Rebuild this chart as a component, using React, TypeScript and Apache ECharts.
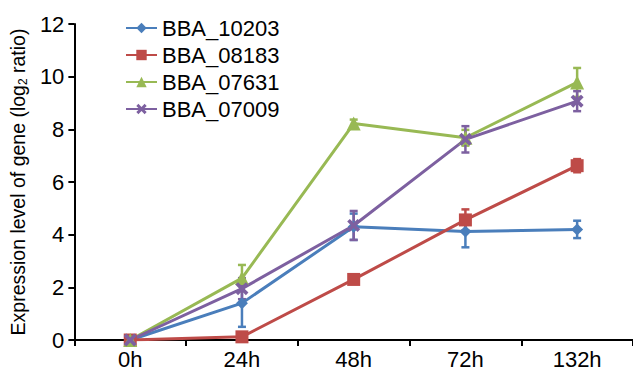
import React, { useEffect, useRef } from "react";
import * as echarts from "echarts";

const categories = ["0h", "24h", "48h", "72h", "132h"];
const seriesNames = ["BBA_10203", "BBA_08183", "BBA_07631", "BBA_07009"];
const bba10203 = [0, 1.4, 4.3, 4.12, 4.2];
const bba10203Err = [0.05, 0.9, 0.5, 0.6, 0.33];
const bba08183 = [0, 0.12, 2.3, 4.56, 6.62];
const bba08183Err = [0.05, 0.1, 0.1, 0.4, 0.25];
const bba07631 = [0, 2.35, 8.22, 7.68, 9.78];
const bba07631Err = [0.05, 0.5, 0.15, 0.3, 0.55];
const bba07009 = [0, 1.95, 4.35, 7.62, 9.07];
const bba07009Err = [0.05, 0.4, 0.55, 0.5, 0.38];
const yTicks = [0, 2, 4, 6, 8, 10, 12];

const colors = ["#4a7ebb", "#be4b48", "#98b954", "#7d60a0"];
const symbols = [
  "diamond",
  "rect",
  "triangle",
  "path://M2,0 L5,3 L8,0 L10,2 L7,5 L10,8 L8,10 L5,7 L2,10 L0,8 L3,5 L0,2 Z",
];
const symbolSizes = [12, 13, 14, 13];
const font = "Liberation Sans, Arial, sans-serif";

export default function App() {
  const ref = useRef<HTMLDivElement>(null);
  useEffect(() => {
    if (!ref.current) return;
    const chart = echarts.init(ref.current, null, { renderer: "svg" });
    const values = [bba10203, bba08183, bba07631, bba07009];
    const errs = [bba10203Err, bba08183Err, bba07631Err, bba07009Err];
    const lineSeries = seriesNames.map((name, i) => ({
      name,
      type: "line",
      data: values[i],
      symbol: symbols[i],
      symbolSize: symbolSizes[i],
      lineStyle: { color: colors[i], width: 3 },
      itemStyle: { color: colors[i] },
      z: 3,
    }));
    const errSeries = seriesNames.map((name, i) => ({
      name: name + "_err",
      type: "custom",
      data: values[i].map((v, j) => [j, v - errs[i][j], v + errs[i][j]]),
      renderItem: (params: any, api: any) => {
        const x = api.value(0);
        const lo = api.coord([x, api.value(1)]);
        const hi = api.coord([x, api.value(2)]);
        const hw = 4;
        const style = { stroke: colors[i], lineWidth: 2.5 };
        return {
          type: "group",
          children: [
            { type: "line", shape: { x1: lo[0], y1: lo[1], x2: hi[0], y2: hi[1] }, style },
            { type: "line", shape: { x1: lo[0] - hw, y1: lo[1], x2: lo[0] + hw, y2: lo[1] }, style },
            { type: "line", shape: { x1: hi[0] - hw, y1: hi[1], x2: hi[0] + hw, y2: hi[1] }, style },
          ],
        };
      },
      z: 2,
      silent: true,
    }));
    chart.setOption({
      animation: false,
      grid: { left: 68, right: -4, top: 24, bottom: 31, containLabel: false },
      legend: {
        data: seriesNames,
        orient: "vertical",
        left: 120,
        top: 12,
        itemWidth: 31,
        itemHeight: 13,
        itemGap: 5,
        textStyle: { fontFamily: font, fontSize: 22, color: "#000" },
      },
      xAxis: {
        type: "category",
        data: categories,
        boundaryGap: true,
        axisLine: { lineStyle: { color: "#000", width: 2 } },
        axisTick: { show: true, length: 6, lineStyle: { color: "#000", width: 2 } },
        axisLabel: { fontFamily: font, fontSize: 22, color: "#000", margin: 8 },
        splitLine: { show: false },
      },
      yAxis: {
        type: "value",
        min: 0,
        max: 12,
        interval: 2,
        name: "{a|Expression level of gene (log}{s|2}{a| ratio)}",
        nameLocation: "middle",
        nameGap: 44,
        nameTextStyle: {
          rich: {
            a: { fontFamily: font, fontSize: 19.5, color: "#000" },
            s: { fontFamily: font, fontSize: 12, color: "#000", verticalAlign: "bottom", padding: [10, 0, 0, 0] },
          },
        },
        axisLine: { show: true, lineStyle: { color: "#000", width: 2 } },
        axisTick: { show: true, length: 6, lineStyle: { color: "#000", width: 2 } },
        axisLabel: {
          fontFamily: font,
          fontSize: 22,
          color: "#000",
          margin: 10,
          formatter: (v: number) => (yTicks.includes(v) ? String(v) : ""),
        },
        splitLine: { show: false },
      },
      series: [...errSeries, ...lineSeries],
    });
    return () => chart.dispose();
  }, []);
  return <div ref={ref} style={{ width: 633, height: 371, position: "absolute", left: 0, top: 0, background: "#fff" }} />;
}
